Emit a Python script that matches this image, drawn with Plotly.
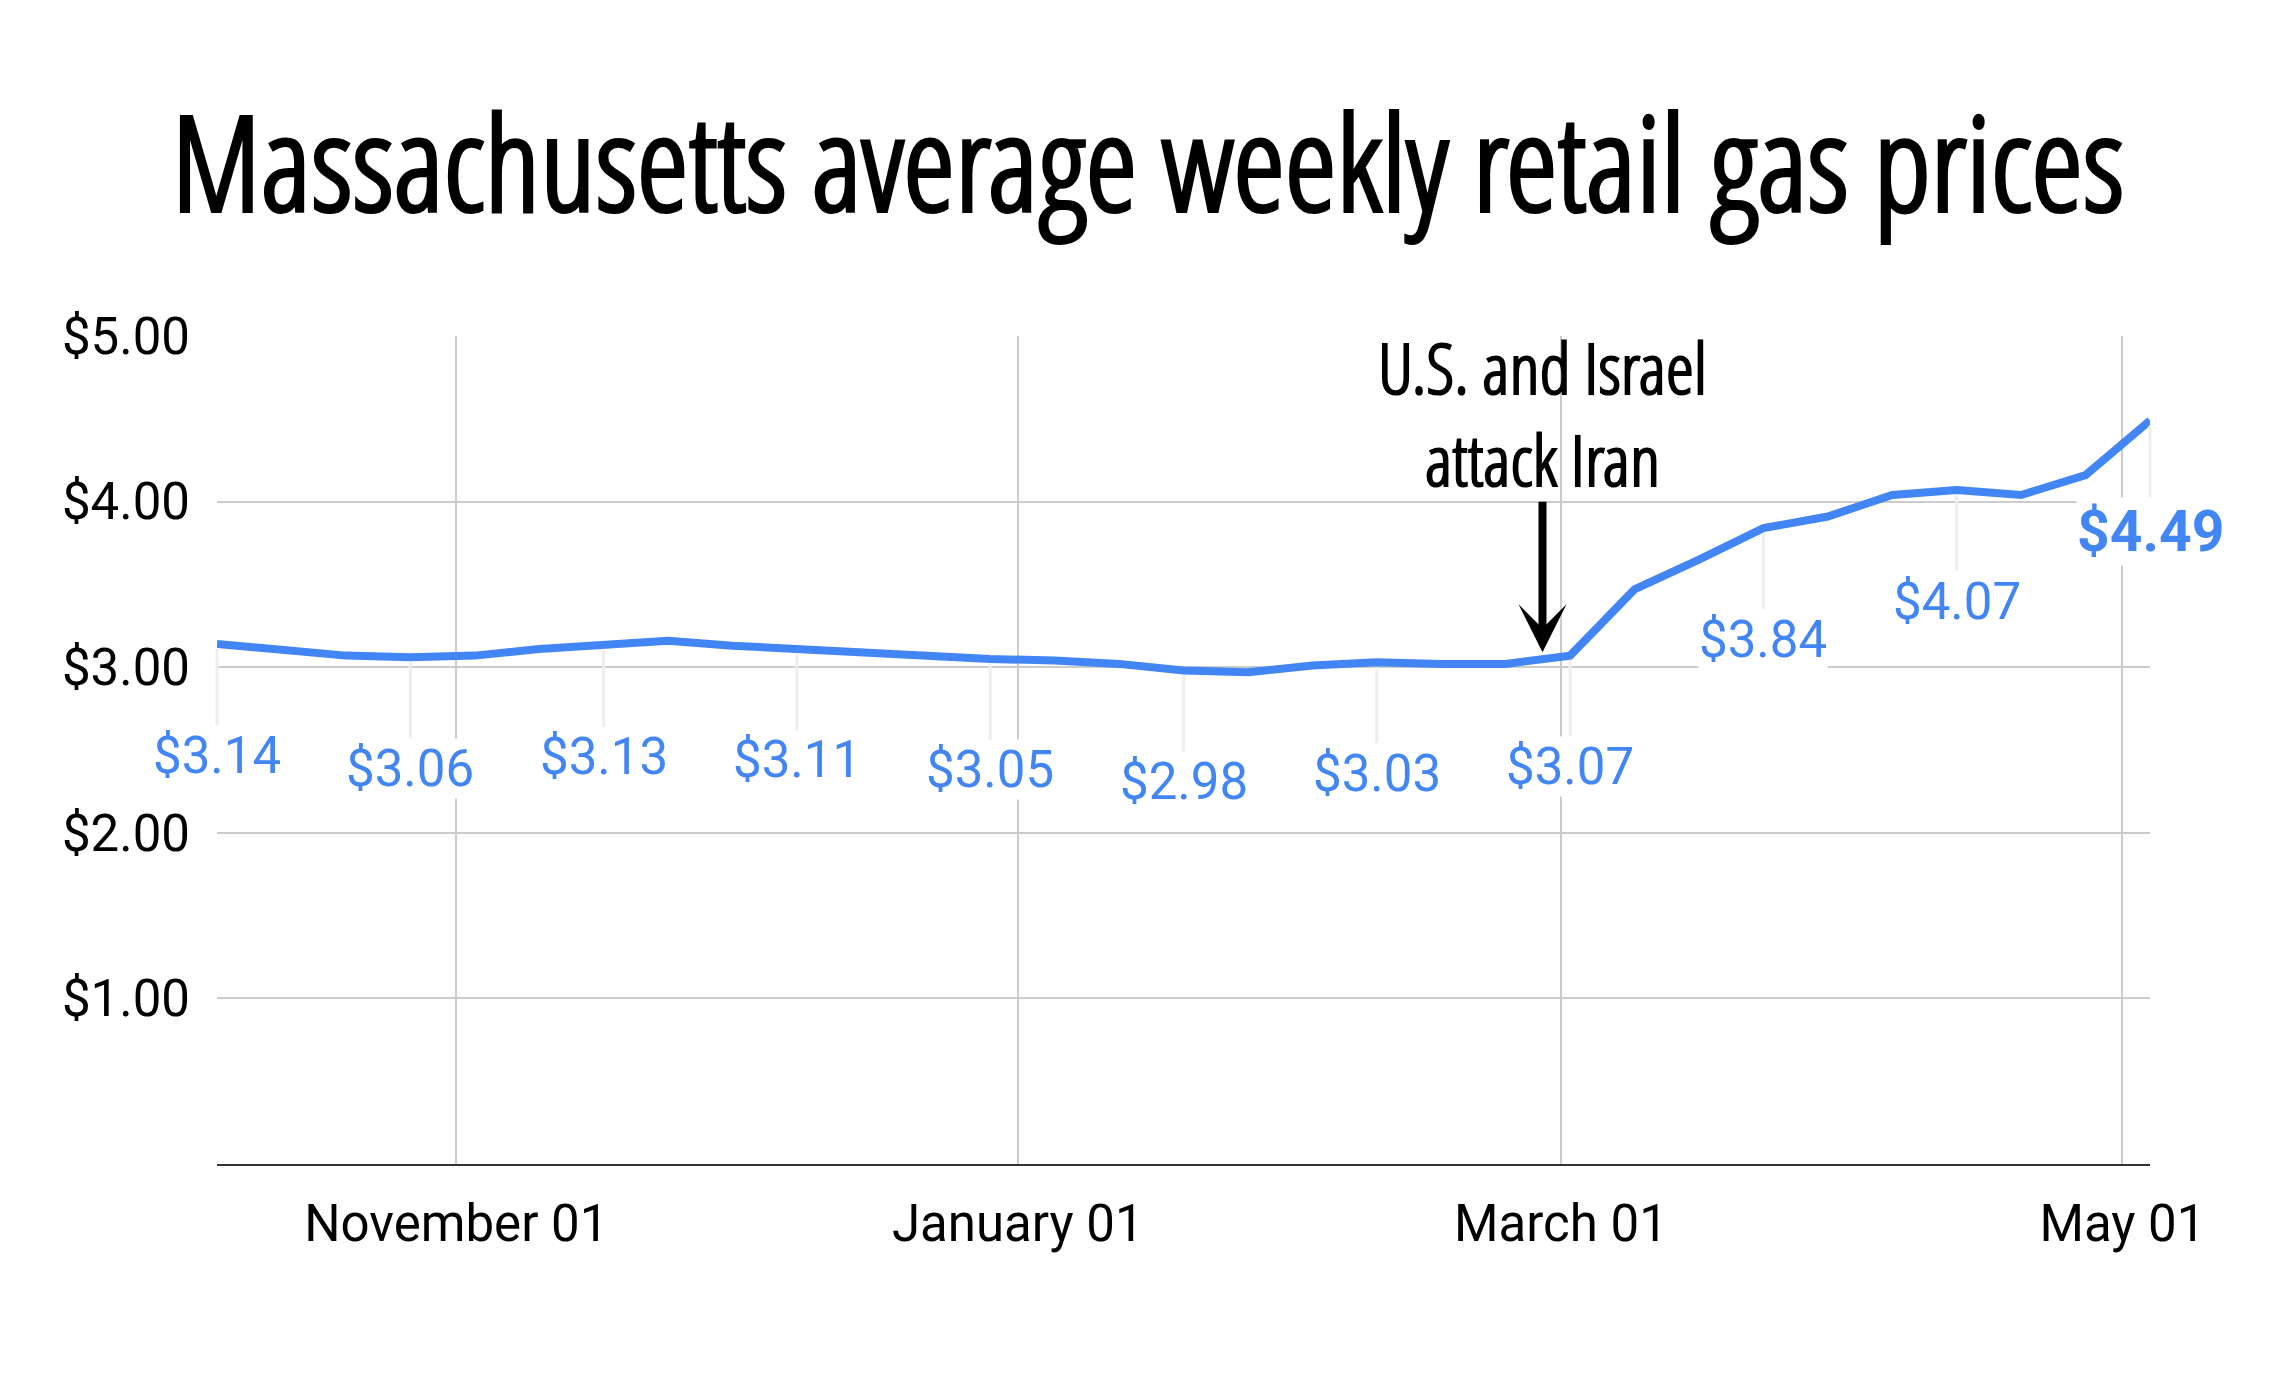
import plotly.graph_objects as go

# weekly average retail price, Massachusetts
week_dates = [
    "2025-10-06", "2025-10-13", "2025-10-20", "2025-10-27",
    "2025-11-03", "2025-11-10", "2025-11-17", "2025-11-24",
    "2025-12-01", "2025-12-08", "2025-12-15", "2025-12-22", "2025-12-29",
    "2026-01-05", "2026-01-12", "2026-01-19", "2026-01-26",
    "2026-02-02", "2026-02-09", "2026-02-16", "2026-02-23",
    "2026-03-02", "2026-03-09", "2026-03-16", "2026-03-23", "2026-03-30",
    "2026-04-06", "2026-04-13", "2026-04-20", "2026-04-27",
    "2026-05-04",
]
prices = [
    3.14, 3.10, 3.07, 3.06,
    3.07, 3.11, 3.13, 3.16,
    3.13, 3.11, 3.09, 3.06, 3.05,
    3.04, 3.02, 2.98, 2.97,
    3.01, 3.03, 3.02, 3.02,
    3.07, 3.47, 3.65, 3.84, 3.91,
    4.04, 4.07, 4.04, 4.16,
    4.49,
]
LABEL_EVERY = 3

y_ticks = [1, 2, 3, 4, 5]
y_ticktext = [f"${v:.2f}" for v in y_ticks]

event_date = "2026-02-27"
event_price = 3.09
event_text = "U.S. and Israel<br>attack Iran"

TITLE = "Massachusetts average weekly retail gas prices"

BLUE = "#4285f4"
GRID = "#cccccc"
CONDENSED = "Open Sans Condensed Light, Open Sans Condensed, Roboto Condensed, Liberation Sans Narrow, sans-serif"
ROBOTO = "Roboto, Arial, sans-serif"

fig = go.Figure()
fig.add_trace(
    go.Scatter(
        x=week_dates,
        y=prices,
        mode="lines",
        line={"color": BLUE, "width": 8},
        hovertemplate="%{x|%b %d}: $%{y:.2f}<extra></extra>",
    )
)

# data labels every third week, with a faint leader line to the point
label_idx = list(range(0, len(prices), LABEL_EVERY))
for i in label_idx:
    last = i == len(prices) - 1
    fig.add_annotation(
        x=week_dates[i],
        y=prices[i],
        text=f"${prices[i]:.2f}",
        showarrow=True,
        arrowhead=0,
        arrowwidth=3,
        arrowcolor="#eeeeee",
        standoff=5,
        ax=0,
        ay=111,
        bgcolor="white",
        borderpad=0,
        font={"family": ROBOTO, "size": 57 if last else 51, "color": BLUE,
              "weight": "bold" if last else "normal"},
    )

# event arrow and its caption
fig.add_annotation(
    x=event_date,
    y=event_price,
    text="",
    showarrow=True,
    arrowhead=3,
    arrowwidth=8,
    arrowsize=1.0,
    arrowcolor="black",
    ax=0,
    ay=-152,
)
fig.add_annotation(
    x=event_date,
    y=event_price,
    text=event_text,
    showarrow=False,
    yanchor="bottom",
    yshift=143,
    font={"family": CONDENSED, "size": 71, "color": "black", "weight": 600},
)

# the page body adds an 8px margin, so the figure is 16px smaller than the window
fig.update_layout(
    width=2280,
    height=1359,
    title={
        "text": TITLE,
        "x": 0.5,
        "xref": "container",
        "xanchor": "center",
        "y": 0.884,
        "yref": "container",
        "yanchor": "middle",
        "font": {"family": CONDENSED, "size": 131, "color": "black", "weight": 600},
    },
    xaxis={
        "type": "date",
        "range": [week_dates[0], week_dates[-1]],
        "tick0": "2025-11-01",
        "dtick": "M2",
        "tickformat": "%B %d",
        "showgrid": True,
        "gridcolor": GRID,
        "gridwidth": 2,
        "showline": True,
        "linecolor": "#333333",
        "linewidth": 2,
        "ticks": "",
        "ticklabelstandoff": 14,
        "tickfont": {"family": ROBOTO, "size": 51, "color": "black"},
    },
    yaxis={
        "range": [0, 5],
        "tickmode": "array",
        "tickvals": y_ticks,
        "ticktext": y_ticktext,
        "showgrid": True,
        "gridcolor": GRID,
        "gridwidth": 2,
        "zeroline": False,
        "ticks": "",
        "ticklabelstandoff": 26,
        "tickfont": {"family": ROBOTO, "size": 51, "color": "black"},
    },
    showlegend=False,
    plot_bgcolor="white",
    paper_bgcolor="white",
    margin={"l": 209, "r": 138, "t": 328, "b": 203},
)

fig.write_html("out.html")
